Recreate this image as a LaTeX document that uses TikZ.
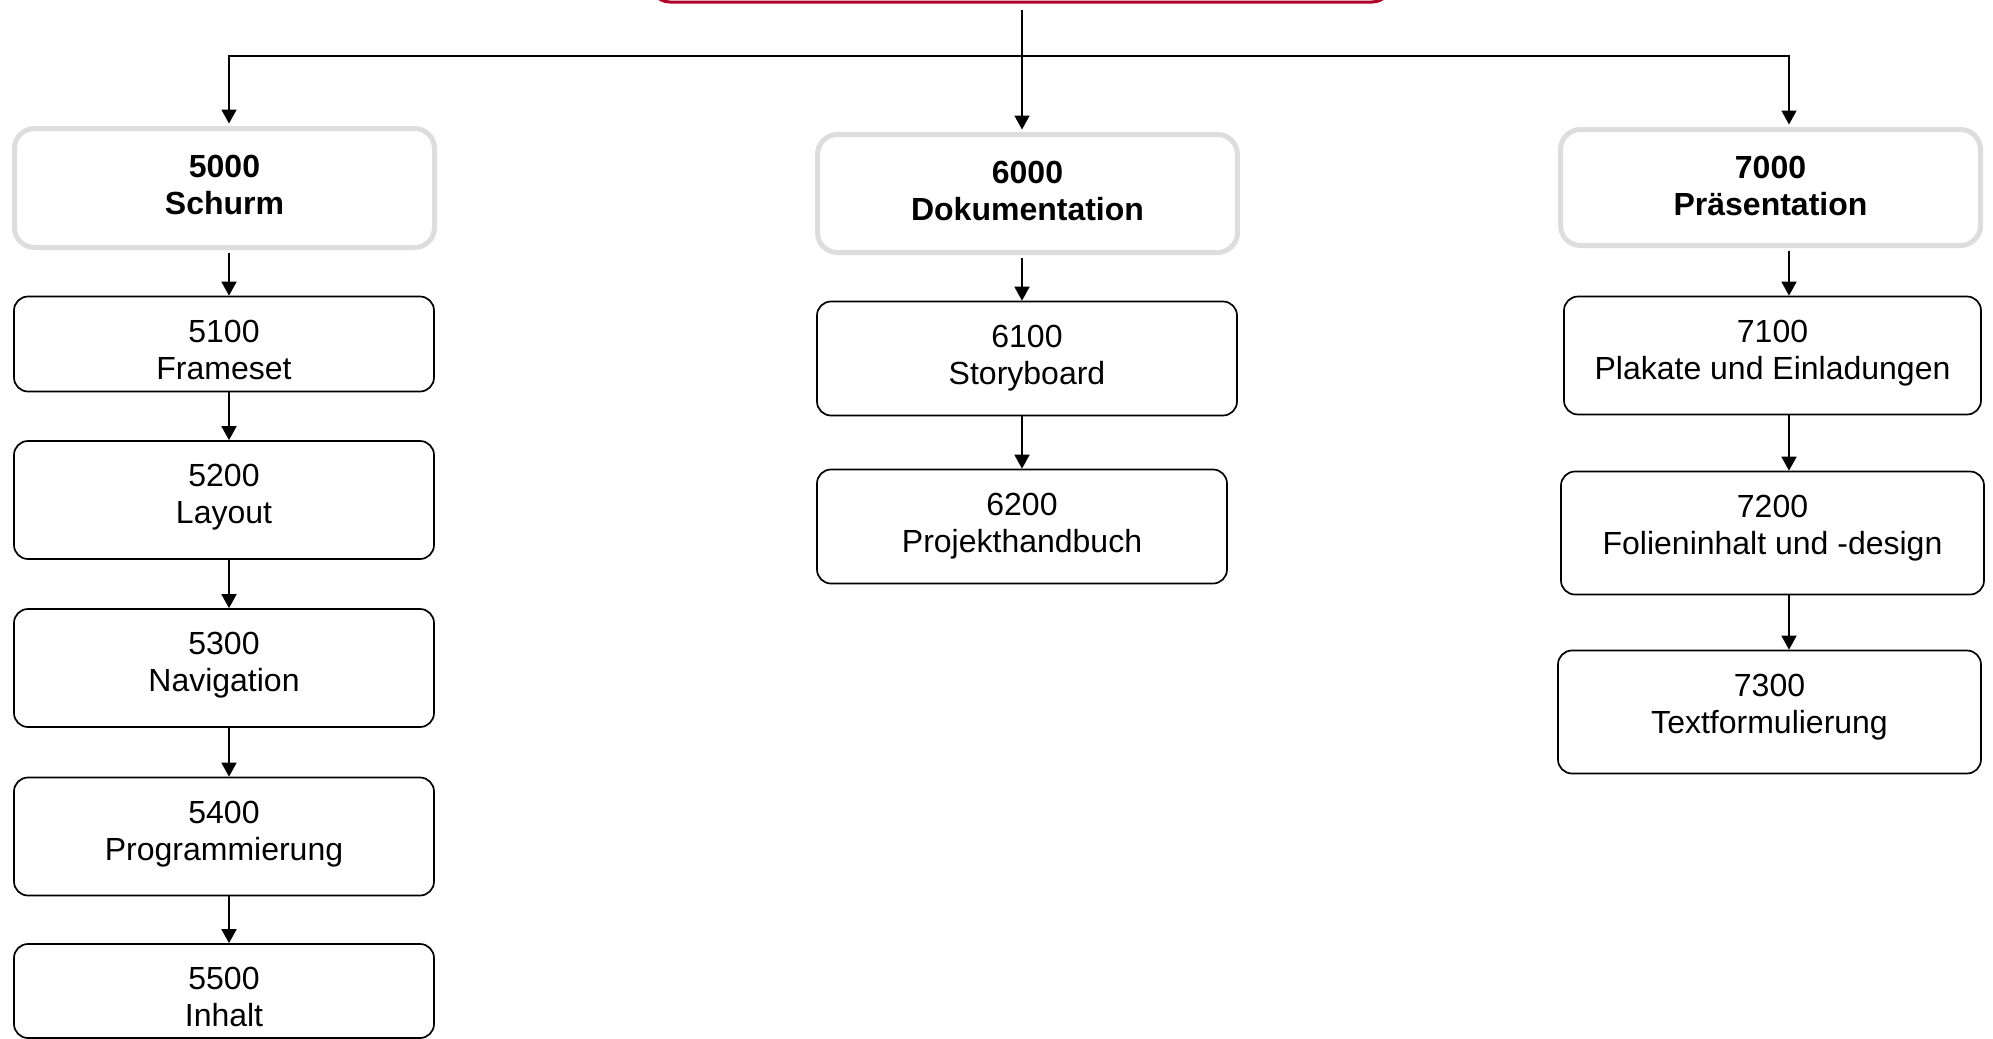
\documentclass[tikz,border=0pt]{standalone}
\usepackage{fontspec}
\setmainfont{Liberation Sans}
\usetikzlibrary{arrows.meta}
\definecolor{headgray}{RGB}{221,221,221}
\definecolor{rootred}{RGB}{176,0,42}
\begin{document}
\begin{tikzpicture}[x=0.5pt,y=-0.5pt,
  taskbox/.style={draw=black, line width=0.85pt, rounded corners=7pt, inner sep=0pt},
  headbox/.style={draw=headgray, line width=2.5pt, rounded corners=10pt, inner sep=0pt},
  tasklabel/.style={anchor=north, yshift=-10pt, inner sep=2pt, align=center,
    font=\fontsize{16}{18.5}\selectfont},
  headlabel/.style={anchor=north, yshift=-12.5pt, inner sep=2pt, align=center,
    font=\fontsize{16}{18.5}\selectfont\bfseries},
  rootbox/.style={draw=rootred, line width=1.5pt, rounded corners=10pt},
  arr/.style={-{Triangle[length=7pt,width=7.5pt]}, line width=0.85pt},
  conn/.style={line width=0.85pt}]
\useasboundingbox (0,0) rectangle (1993,1039);
\clip (0,0) rectangle (1993,1039);

% project root (only its lower edge lies inside the sheet)
\node[rootbox, minimum width=371pt, minimum height=42pt] (root) at (1021,-40) {};

% branch heads
\node[headbox, minimum width=210pt, minimum height=59.5pt,
  label={[headlabel]north:{5000\\Schurm}}] (n5000) at (224.5,188) {};
\node[headbox, minimum width=210pt, minimum height=59pt,
  label={[headlabel]north:{6000\\Dokumentation}}] (n6000) at (1027.5,193.5) {};
\node[headbox, minimum width=210pt, minimum height=58pt,
  label={[headlabel]north:{7000\\Präsentation}}] (n7000) at (1770.5,187.5) {};

% work packages 5xxx
\node[taskbox, minimum width=210pt, minimum height=47.5pt,
  label={[tasklabel]north:{5100\\Frameset}}] (n5100) at (224,344) {};
\node[taskbox, minimum width=210pt, minimum height=59pt,
  label={[tasklabel]north:{5200\\Layout}}] (n5200) at (224,500) {};
\node[taskbox, minimum width=210pt, minimum height=59pt,
  label={[tasklabel]north:{5300\\Navigation}}] (n5300) at (224,668) {};
\node[taskbox, minimum width=210pt, minimum height=59pt,
  label={[tasklabel]north:{5400\\Programmierung}}] (n5400) at (224,836.5) {};
\node[taskbox, minimum width=210pt, minimum height=47pt,
  label={[tasklabel]north:{5500\\Inhalt}}] (n5500) at (224,991) {};

% work packages 6xxx
\node[taskbox, minimum width=210pt, minimum height=57pt,
  label={[tasklabel]north:{6100\\Storyboard}}] (n6100) at (1027,358.5) {};
\node[taskbox, minimum width=205pt, minimum height=57pt,
  label={[tasklabel]north:{6200\\Projekthandbuch}}] (n6200) at (1022,526.5) {};

% work packages 7xxx
\node[taskbox, minimum width=208.5pt, minimum height=59pt,
  label={[tasklabel]north:{7100\\Plakate und Einladungen}}] (n7100) at (1772.5,355.5) {};
\node[taskbox, minimum width=211.5pt, minimum height=61.5pt,
  label={[tasklabel]north:{7200\\Folieninhalt und -design}}] (n7200) at (1772.5,533) {};
\node[taskbox, minimum width=211.5pt, minimum height=61.5pt,
  label={[tasklabel]north:{7300\\Textformulierung}}] (n7300) at (1769.5,712) {};

% connector columns and junction
\coordinate (c5) at (229,0);
\coordinate (c6) at (1022,0);
\coordinate (c7) at (1789,0);
\coordinate (j) at (1022,56);

\draw[conn, shorten <=3pt] (root.south -| j) -- (j);
\draw[arr, shorten >=1.25pt] (j) -| (n5000.north -| c5);
\draw[arr, shorten >=1.25pt] (j) -- (n6000.north -| c6);
\draw[arr, shorten >=1.25pt] (j) -| (n7000.north -| c7);

\draw[arr, shorten <=1.25pt] (n5000.south -| c5) -- (n5100.north -| c5);
\draw[arr] (n5100.south -| c5) -- (n5200.north -| c5);
\draw[arr] (n5200.south -| c5) -- (n5300.north -| c5);
\draw[arr] (n5300.south -| c5) -- (n5400.north -| c5);
\draw[arr] (n5400.south -| c5) -- (n5500.north -| c5);

\draw[arr, shorten <=1.25pt] (n6000.south -| c6) -- (n6100.north -| c6);
\draw[arr] (n6100.south -| c6) -- (n6200.north -| c6);

\draw[arr, shorten <=1.25pt] (n7000.south -| c7) -- (n7100.north -| c7);
\draw[arr] (n7100.south -| c7) -- (n7200.north -| c7);
\draw[arr] (n7200.south -| c7) -- (n7300.north -| c7);
\end{tikzpicture}
\end{document}
